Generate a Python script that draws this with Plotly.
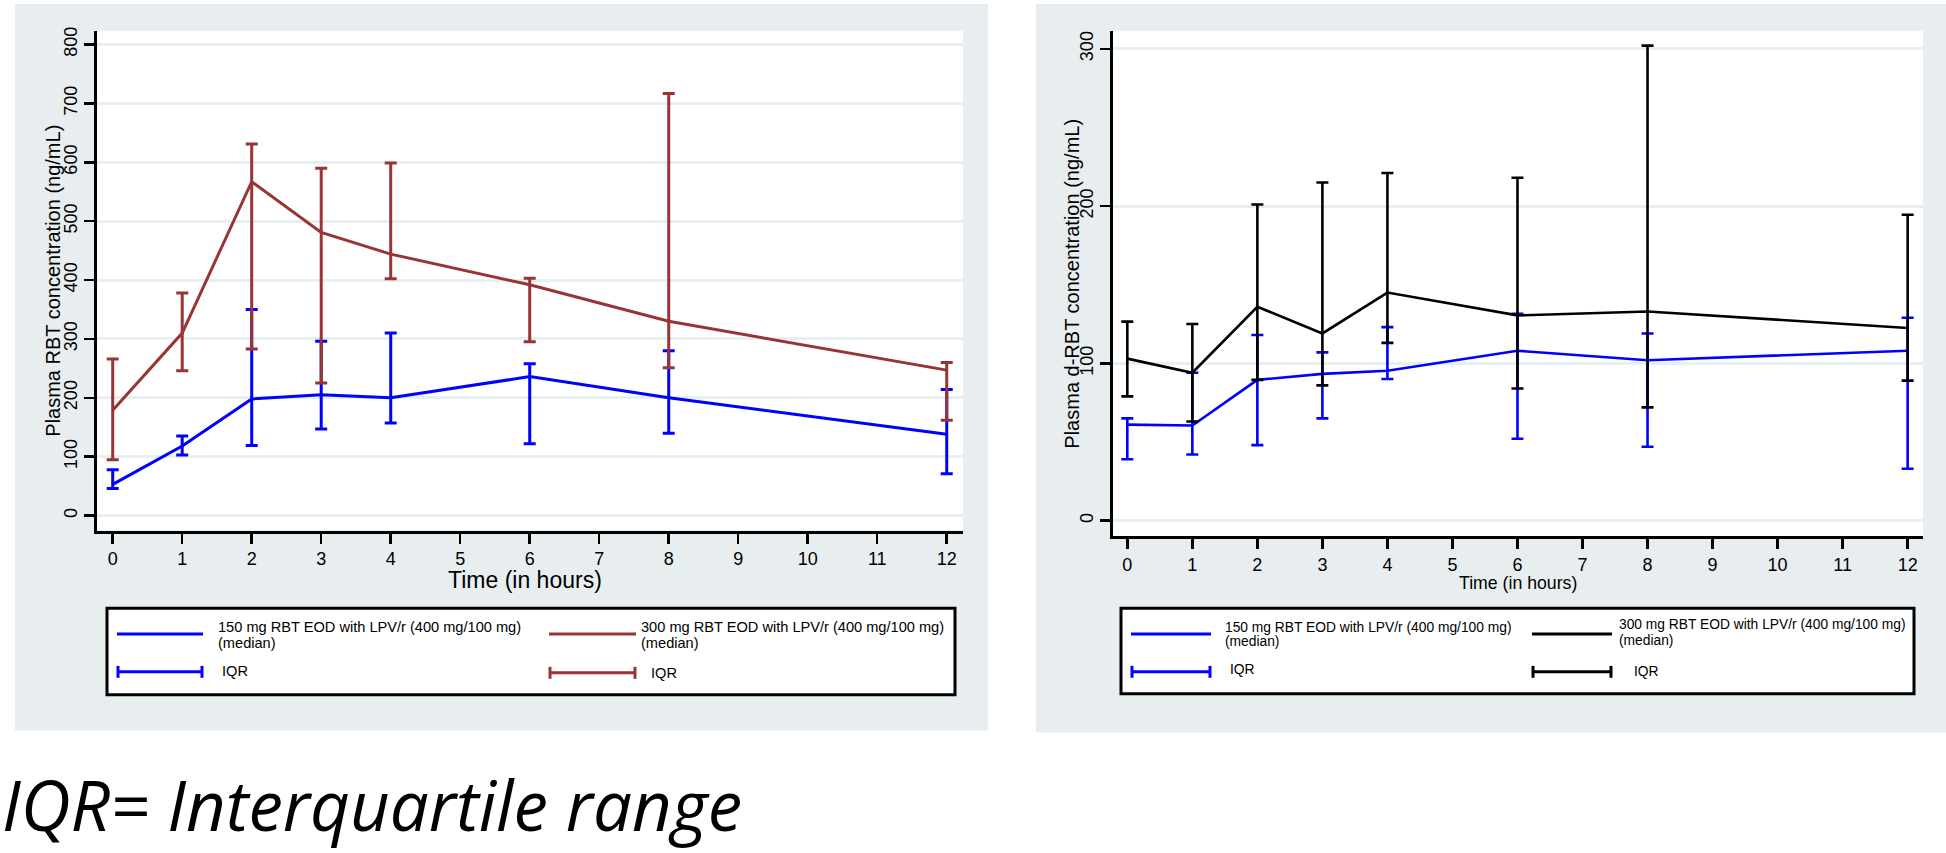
import numpy as np
import plotly.graph_objects as go

W, H = 1946, 853

# ---------------- data ----------------
time_h = [0, 1, 2, 3, 4, 6, 8, 12]
x_ticks = list(range(13))
rbt_y_ticks = [0, 100, 200, 300, 400, 500, 600, 700, 800]
drbt_y_ticks = [0, 100, 200, 300]

# Left: plasma RBT (ng/mL)
rbt150_median = [53, 118, 198, 205, 200, 236, 200, 138]
rbt150_q1 = [46, 103, 119, 147, 157, 122, 140, 71]
rbt150_q3 = [78, 135, 350, 296, 310, 258, 280, 214]
rbt300_median = [179, 310, 567, 481, 444, 392, 330, 247]
rbt300_q1 = [95, 246, 283, 225, 402, 295, 251, 162]
rbt300_q3 = [266, 378, 631, 590, 599, 403, 717, 260]

# Right: plasma d-RBT (ng/mL)
drbt150_median = [61, 60.5, 89.5, 93.3, 95.3, 108, 102, 108]
drbt150_q1 = [39, 42, 48, 65, 90, 52, 47, 33]
drbt150_q3 = [65, 94, 118, 107, 123, 131.5, 119, 129]
drbt300_median = [103, 94, 136, 119, 145, 130.5, 133, 122.5]
drbt300_q1 = [79, 63, 89.5, 86, 113, 84, 72, 89]
drbt300_q3 = [126.5, 125, 201, 215, 221, 218, 302, 194.5]

label150 = "150 mg RBT EOD with LPV/r (400 mg/100 mg)"
label300 = "300 mg RBT EOD with LPV/r (400 mg/100 mg)"
label_median = "(median)"
label_iqr = "IQR"
left_ytitle = "Plasma RBT concentration (ng/mL)"
right_ytitle = "Plasma d-RBT concentration (ng/mL)"
xtitle = "Time (in hours)"
caption = "IQR= Interquartile range"

# ---------------- style ----------------
BLUE = "#0000ff"
BROWN = "#993434"
BLACK = "#000000"
BG = "#e8eef0"
GRID = "#e6f0f0"
FONT = "Liberation Sans, Arial, sans-serif"


def px(x):
    return x / W


def py(y):
    return 1 - y / H


fig = go.Figure()


def add_series(xa, ya, med, q1, q3, color, lw, ew, cap):
    med = np.array(med, dtype=float)
    q1 = np.array(q1, dtype=float)
    q3 = np.array(q3, dtype=float)
    fig.add_trace(go.Scatter(
        x=time_h, y=med, mode="lines", xaxis=xa, yaxis=ya,
        line=dict(color=color, width=lw),
        error_y=dict(type="data", symmetric=False, array=q3 - med,
                     arrayminus=med - q1, color=color, thickness=ew, width=cap),
        showlegend=False, hoverinfo="skip"))


add_series("x", "y", rbt150_median, rbt150_q1, rbt150_q3, BLUE, 3, 3, 6)
add_series("x", "y", rbt300_median, rbt300_q1, rbt300_q3, BROWN, 3, 3, 6)
add_series("x2", "y2", drbt150_median, drbt150_q1, drbt150_q3, BLUE, 2.6, 2.6, 6)
add_series("x2", "y2", drbt300_median, drbt300_q1, drbt300_q3, BLACK, 2.6, 2.6, 6)

axis_common = dict(showline=True, linecolor="black", linewidth=3,
                   ticks="outside", ticklen=10, tickwidth=2.5, tickcolor="black",
                   tickfont=dict(family=FONT, size=18, color="black"),
                   zeroline=False, fixedrange=True)

fig.update_layout(
    width=W, height=H, margin=dict(l=0, r=0, t=0, b=0),
    paper_bgcolor="white", plot_bgcolor="white", showlegend=False,
    xaxis=dict(domain=[px(97), px(963)], range=[-0.226, 12.234], tickvals=x_ticks,
               showgrid=False, anchor="y", **axis_common),
    yaxis=dict(domain=[py(529), py(27)], range=[-25.4, 823.2], tickvals=rbt_y_ticks,
               tickangle=-90, showgrid=True, gridcolor=GRID, gridwidth=3,
               anchor="x", **axis_common),
    xaxis2=dict(domain=[px(1113), px(1923)], range=[-0.22, 12.236], tickvals=x_ticks,
                showgrid=False, anchor="y2", **axis_common),
    yaxis2=dict(domain=[py(535), py(27)], range=[-10.1, 311.4], tickvals=drbt_y_ticks,
                tickangle=-90, showgrid=True, gridcolor=GRID, gridwidth=3,
                anchor="x2", **axis_common),
)

shapes = []


def rect(x0, y0, x1, y1, fill, lw=0, lc="black", layer="below"):
    shapes.append(dict(type="rect", xref="paper", yref="paper",
                       x0=px(x0), x1=px(x1), y0=py(y1), y1=py(y0),
                       fillcolor=fill, line=dict(width=lw, color=lc), layer=layer))


def hline(x0, x1, y, color, w):
    shapes.append(dict(type="line", xref="paper", yref="paper",
                       x0=px(x0), x1=px(x1), y0=py(y), y1=py(y),
                       line=dict(color=color, width=w), layer="above"))


def vline(x, y0, y1, color, w):
    shapes.append(dict(type="line", xref="paper", yref="paper",
                       x0=px(x), x1=px(x), y0=py(y0), y1=py(y1),
                       line=dict(color=color, width=w), layer="above"))


# panel backgrounds + white plot areas
rect(15, 0, 988, 730, BG)
rect(97, 27, 963, 529, "white")
rect(1036, 0, 1946, 732, BG)
rect(1113, 27, 1923, 535, "white")

# legend boxes
rect(107, 607, 955, 694, "white", 3, "black", "above")
rect(1121, 607, 1914, 693, "white", 3, "black", "above")


def iqr_sample(x0, x1, y, color, w):
    hline(x0, x1, y, color, w)
    vline(x0 + 1, y - 6, y + 6, color, w)
    vline(x1 - 1, y - 6, y + 6, color, w)


# left legend samples
hline(117, 203, 633, BLUE, 3)
iqr_sample(117, 203, 671, BLUE, 3)
hline(549, 636, 633, BROWN, 3)
iqr_sample(549, 636, 672, BROWN, 3)
# right legend samples
hline(1131, 1211, 633, BLUE, 3)
iqr_sample(1131, 1211, 671, BLUE, 3)
hline(1532, 1612, 633, BLACK, 3)
iqr_sample(1532, 1612, 671, BLACK, 3)

fig.update_layout(shapes=shapes)

annotations = []


def text(x, y, s, size, xanchor="left", angle=0, family=FONT):
    annotations.append(dict(xref="paper", yref="paper", x=px(x), y=py(y), text=s,
                            showarrow=False, xanchor=xanchor, yanchor="middle",
                            textangle=angle, font=dict(family=family, size=size, color="black")))


# axis titles
text(53, 278, left_ytitle, 20, "center", -90)
text(1072, 281, right_ytitle, 20, "center", -90)
text(525, 579, xtitle, 23, "center")
text(1518, 582, xtitle, 17.7, "center")

# legend texts
text(216, 626, label150, 14.6)
text(216, 642, label_median, 14.6)
text(220, 670, label_iqr, 14.6)
text(639, 626, label300, 14.6)
text(639, 642, label_median, 14.6)
text(649, 672, label_iqr, 14.6)
text(1223, 626, label150, 13.8)
text(1223, 641, label_median, 13.8)
text(1228, 669, label_iqr, 13.8)
text(1617, 623, label300, 13.8)
text(1617, 639, label_median, 13.8)
text(1632, 671, label_iqr, 13.8)

# caption
text(0, 804, "<i>" + caption + "</i>", 69, "left", 0, "Open Sans, Lato, sans-serif")

fig.update_layout(annotations=annotations)

fig.write_html("out.html", config=dict(displayModeBar=False, staticPlot=True),
               post_script="document.body.style.margin='0';document.body.style.overflow='hidden';")
